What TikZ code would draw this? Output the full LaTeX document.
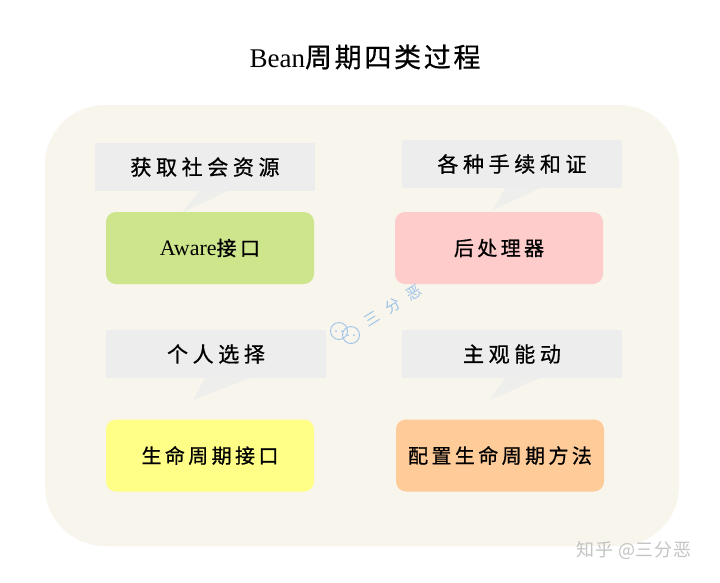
\documentclass[tikz,border=0pt]{standalone}
\usepackage{fontspec}
\newfontfamily\cjk{Noto Sans CJK SC}
\newfontfamily\cjkgray{Noto Sans CJK SC}[LetterSpace=22,FakeBold=0.8]
\newfontfamily\cjkbox{Noto Sans CJK SC}[LetterSpace=17,FakeBold=0.8]
\newfontfamily\cjktitle{Noto Sans CJK SC}[LetterSpace=10,FakeBold=0.6]
\newfontfamily\cjkmark{Noto Sans CJK SC}
\newfontfamily\cjkzh{Noto Sans CJK SC}[LetterSpace=5]
\setmainfont{Liberation Serif}
\definecolor{cream}{HTML}{F8F5EC}
\definecolor{callgray}{HTML}{EDEDED}
\definecolor{tailgray}{HTML}{EEEEEC}
\definecolor{cgreen}{HTML}{CDE68C}
\definecolor{cpink}{HTML}{FFCCCC}
\definecolor{cyellow}{HTML}{FFFF88}
\definecolor{corange}{HTML}{FFCC99}
\definecolor{markblue}{HTML}{9EC3E8}
\definecolor{markgray}{HTML}{C4C4C4}
\begin{document}
\begin{tikzpicture}[x=1pt,y=-1pt,
  callout/.style={fill=callgray,draw=none,minimum width=220pt,minimum height=48pt,inner sep=0pt,
    font=\fontsize{21}{21}\cjkgray},
  tail/.style={fill=tailgray,draw=none},
  colbox/.style={draw=none,rounded corners=10pt,minimum width=208pt,minimum height=72pt,inner sep=0pt,
    font=\fontsize{20}{20}\cjkbox},
  markchar/.style={rotate=32,text=markblue,font=\fontsize{15}{15}\cjkmark,inner sep=0pt},
]
\useasboundingbox (0,0) rectangle (720,582);
\fill[white] (0,0) rectangle (720,582);
% title
\node (title) at (365,57) {\fontsize{27}{27}\rmfamily Bean{\cjktitle 周期四类过程}};
% background panel
\fill[cream,rounded corners=60pt] (45,105) rectangle (679,546);
% tails
\fill[tail] (200,190) -- (230,190) -- (183,212) -- cycle;
\fill[tail] (505,188) -- (540,188) -- (493,210) -- cycle;
\fill[tail] (205,378) -- (250,378) -- (193,400) -- cycle;
\fill[tail] (505,378) -- (540,378) -- (490,400) -- cycle;
% callouts
\node[callout] (c1) at (205,167) {获取社会资源};
\node[callout] (c2) at (512,164) {各种手续和证};
\node[callout] (c3) at (216,354) {个人选择};
\node[callout] (c4) at (512,354) {主观能动};
% coloured boxes
\node[colbox,fill=cgreen] (b1) at (210,248) {{\rmfamily\fontsize{22}{22}\selectfont Aware}接口};
\node[colbox,fill=cpink] (b2) at (499,248) {后处理器};
\node[colbox,fill=cyellow] (b3) at (210,455.5) {生命周期接口};
\node[colbox,fill=corange] (b4) at (500,455.5) {配置生命周期方法};
% watermark
\draw[markblue,line width=0.9pt] (339,331) circle (8.5pt);
\draw[markblue,line width=0.9pt] (351,335) circle (8.5pt);
\fill[markblue] (336,331) circle (1pt) (342,331) circle (1pt) (348,335) circle (1pt) (354,335) circle (1pt);
\node[markchar] (wm1) at (372,319) {三};
\node[markchar] (wm2) at (393,306) {分};
\node[markchar] (wm3) at (414,293) {恶};
\node[text=markgray,font=\fontsize{18}{18}\cjkzh] (zh) at (634,550) {知乎\ @三分恶};
\end{tikzpicture}
\end{document}
